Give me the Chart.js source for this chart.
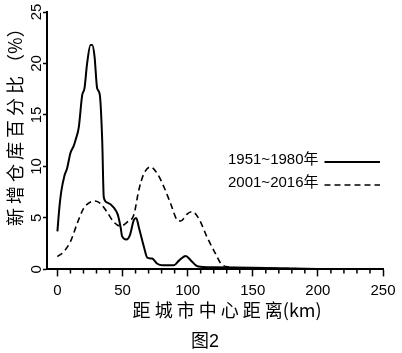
<!DOCTYPE html>
<html>
<head>
<meta charset="utf-8">
<script src="https://cdn.jsdelivr.net/npm/chart.js@4"></script>
<style>
    html, body { margin: 0; padding: 0; background: #fff; }
</style>
</head>
<body>
<canvas id="chart" width="402" height="353"></canvas>
<script>
// 1951~1980年 (实线)
const distance1951 = [0, 1.5, 3, 5.4, 7.4, 10, 12.5, 14, 16.4, 19, 20.8, 22.8, 25.4, 26.7, 28.5, 30.5, 32.5, 34.4, 35.6, 38.2, 43.3, 46.4, 48.5, 49.7, 53, 55.6, 58.7, 60.5, 62.5, 66.4, 69, 72.8, 76.7, 80.5, 89.5, 93.3, 98.5, 102.3, 107.5, 120, 150, 200, 250];
const share1951 = [3.7, 6.0, 7.6, 9.1, 9.8, 11.3, 12.0, 12.6, 13.8, 16.9, 17.6, 20.0, 21.8, 21.8, 20.7, 17.6, 17.0, 12.5, 7.0, 6.5, 6.0, 5.3, 4.1, 3.2, 2.9, 3.3, 4.8, 5.0, 4.1, 2.2, 1.15, 1.05, 0.55, 0.4, 0.4, 0.85, 1.3, 0.9, 0.3, 0.2, 0.15, 0.05, 0];

// 2001~2016年 (虚线)
const distance2001 = [0, 4.8, 10, 15, 20, 25.4, 29, 33, 38, 43.3, 48.5, 53.6, 58.7, 62.5, 66.4, 71.5, 76.7, 81.8, 86.9, 92, 94.6, 99.8, 103.6, 108.7, 115, 121.5, 125.4, 130.5, 150, 200, 250];
const share2001 = [1.25, 1.7, 2.7, 4.4, 5.9, 6.55, 6.65, 6.4, 5.6, 4.6, 4.2, 4.6, 5.3, 7.7, 9.3, 9.95, 9.3, 8.0, 6.4, 4.8, 4.7, 5.4, 5.6, 4.9, 3.1, 1.5, 0.6, 0.25, 0.12, 0.05, 0];

const seriesNames = ['1951~1980年', '2001~2016年'];
const xTicks = [0, 50, 100, 150, 200, 250];
const xMinorTicks = [10, 20, 30, 40, 60, 70, 80, 90, 110, 120, 130, 140, 160, 170, 180, 190, 210, 220, 230, 240];
const yTicks = [0, 5, 10, 15, 20, 25];

Chart.defaults.font.family = "'Liberation Sans', Arial, 'Noto Sans CJK SC', sans-serif";
Chart.defaults.color = '#000';

// мелкие засечки на оси x
const minorTicks = {
    id: 'minorTicks',
    afterDraw(chart) {
        const scale = chart.scales.x;
        const ctx = chart.ctx;
        ctx.save();
        ctx.strokeStyle = '#000';
        ctx.lineWidth = 1.5;
        ctx.beginPath();
        xMinorTicks.forEach(v => {
            const px = scale.getPixelForValue(v);
            ctx.moveTo(px, scale.top);
            ctx.lineTo(px, scale.top + 4);
        });
        ctx.stroke();
        ctx.restore();
    }
};

// легенда: подпись, затем образец линии
const lineLegend = {
    id: 'lineLegend',
    afterDraw(chart) {
        const ctx = chart.ctx;
        ctx.save();
        ctx.font = "15px 'Liberation Sans', Arial, 'Noto Sans CJK SC', sans-serif";
        ctx.fillStyle = '#000';
        ctx.textBaseline = 'middle';
        chart.data.datasets.forEach((ds, i) => {
            const x = 228;
            const y = 160 + i * 23;
            ctx.fillText(ds.label, x, y);
            const w = ctx.measureText(ds.label).width;
            ctx.beginPath();
            ctx.setLineDash(ds.borderDash || []);
            ctx.lineWidth = ds.borderWidth;
            ctx.strokeStyle = ds.borderColor;
            ctx.moveTo(x + w + 6, y + 2);
            ctx.lineTo(380, y + 2);
            ctx.stroke();
        });
        ctx.restore();
    }
};

const toPoints = (xs, ys) => xs.map((x, i) => ({x: x, y: ys[i]}));

new Chart(document.getElementById('chart'), {
    type: 'line',
    data: {
        datasets: [{
            label: seriesNames[0],
            data: toPoints(distance1951, share1951),
            borderColor: '#000',
            borderWidth: 2,
            pointRadius: 0,
            cubicInterpolationMode: 'monotone'
        }, {
            label: seriesNames[1],
            data: toPoints(distance2001, share2001),
            borderColor: '#000',
            borderWidth: 1.6,
            borderDash: [6, 4],
            pointRadius: 0,
            cubicInterpolationMode: 'monotone'
        }]
    },
    options: {
        responsive: false,
        animation: false,
        devicePixelRatio: 1,
        layout: {padding: {left: 0, right: 19, top: 12, bottom: 0}},
        plugins: {
            legend: {display: false},
            tooltip: {enabled: false},
            title: {
                display: true,
                position: 'bottom',
                text: '\u3000\u2002图2',
                color: '#000',
                font: {size: 18, weight: 'normal', family: "'Liberation Sans', 'Noto Sans CJK SC', sans-serif"},
                padding: 0
            }
        },
        scales: {
            x: {
                type: 'linear',
                min: -8,
                max: 250,
                afterFit: s => { s.height = 62; },
                afterBuildTicks: s => { s.ticks = xTicks.map(v => ({value: v})); },
                border: {color: '#000', width: 2},
                grid: {drawOnChartArea: false, tickLength: 7, tickColor: '#000', tickWidth: 1.5},
                ticks: {maxRotation: 0, padding: 5, color: '#000', font: {size: 15}},
                title: {
                    display: true,
                    text: '      距 城 市 中 心 距 离(km)',
                    color: '#000',
                    font: {size: 18, family: "'Noto Sans CJK SC', sans-serif"},
                    padding: {top: 0, bottom: 10}
                }
            },
            y: {
                min: 0,
                max: 25,
                afterFit: s => { s.width = 47; },
                afterBuildTicks: s => { s.ticks = yTicks.map(v => ({value: v})); },
                border: {color: '#000', width: 2},
                grid: {drawOnChartArea: false, tickLength: 4, tickColor: '#000', tickWidth: 1.5},
                ticks: {minRotation: 90, maxRotation: 90, crossAlign: 'center', padding: -2, color: '#000', font: {size: 15}},
                title: {
                    display: true,
                    text: '\u3000\u3000新 增 仓 库 百 分 比 （%）',
                    color: '#000',
                    font: {size: 18, family: "'Noto Sans CJK SC', sans-serif"},
                    padding: {top: 4, bottom: 0}
                }
            }
        }
    },
    plugins: [minorTicks, lineLegend]
});
</script>
</body>
</html>
